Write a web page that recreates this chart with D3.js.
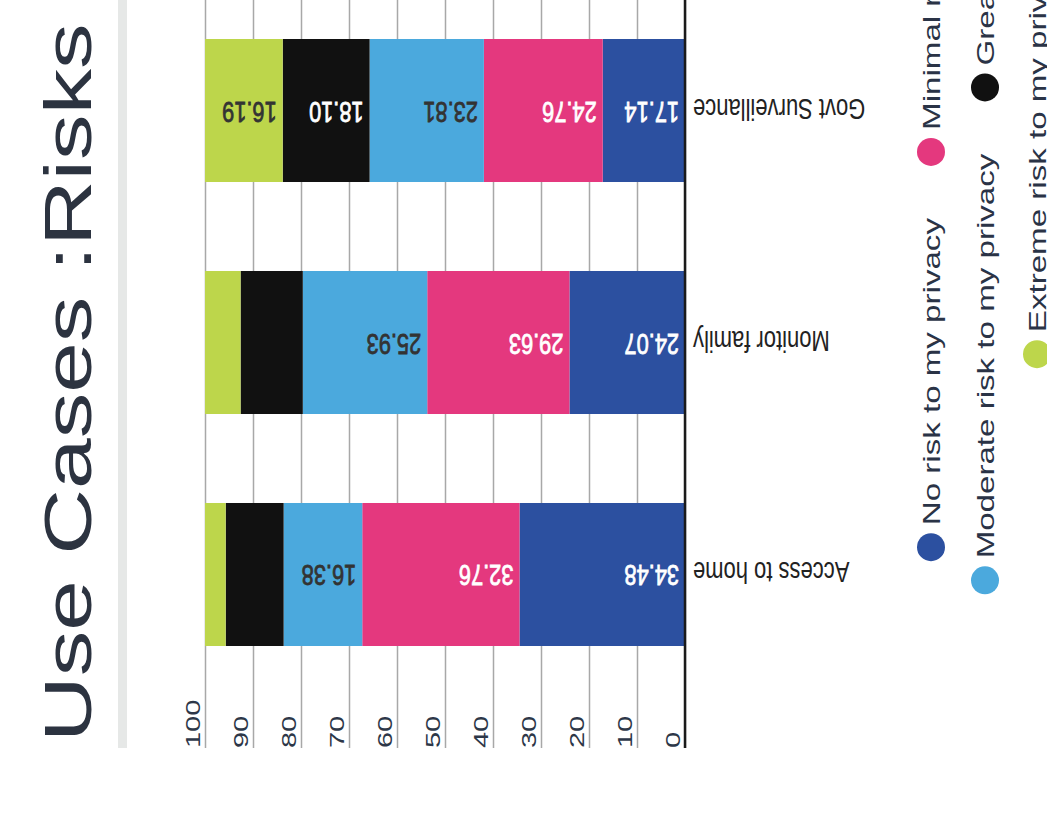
<!DOCTYPE html>
<html><head><meta charset="utf-8">
<script src="https://cdn.jsdelivr.net/npm/d3@7"></script>
<style>body{margin:0;background:#fff}svg{display:block}</style>
</head><body>
<svg id="chart" width="1047" height="813"></svg>
<script>
// ---- data ----
const title = "Use Cases :Risks";
const categories = ["Govt Surveillance", "Monitor family", "Access to home"];
const seriesNames = ["No risk to my privacy", "Minimal risk to my privacy", "Moderate risk to my privacy", "Great risk to my privacy", "Extreme risk to my privacy"];
const noRisk       = [17.14, 24.07, 34.48];
const minimalRisk  = [24.76, 29.63, 32.76];
const moderateRisk = [23.81, 25.93, 16.38];
const greatRisk    = [18.10, 12.96, 12.07];
const extremeRisk  = [16.19, 7.41, 4.31];
const tickValues = [0, 10, 20, 30, 40, 50, 60, 70, 80, 90, 100];
const colors = ["#2c50a0", "#e4387e", "#4ba9dd", "#111111", "#bdd64b"];
const labelColors = ["#ffffff", "#ffffff", "#333333", "#ffffff", "#333333"];

// ---- build table ----
const seriesValues = [noRisk, minimalRisk, moderateRisk, greatRisk, extremeRisk];
const table = categories.map((c, i) => {
  const row = {category: c};
  seriesNames.forEach((s, j) => row[s] = seriesValues[j][i]);
  return row;
});
const stacked = d3.stack().keys(seriesNames)(table);

const svg = d3.select("#chart");
const K = 1.38; // vertical stretch of the picture
const FONT = "'Liberation Sans', Arial, sans-serif";

const plotBottom = 748;
const x = d3.scaleLinear().domain([0, 100]).range([685, 205]);
const y = d3.scaleBand().domain(categories).range([-77, 762]).paddingInner(0.3836).paddingOuter(0.5);
const color = d3.scaleOrdinal().domain(seriesNames).range(colors);
const labelColor = d3.scaleOrdinal().domain(seriesNames).range(labelColors);

// title + side stripe
svg.append("rect").attr("x", 118).attr("y", 0).attr("width", 9).attr("height", plotBottom).attr("fill", "#e6e8e7");
svg.append("text")
  .attr("transform", `translate(91,742) rotate(-90) scale(${K},1)`)
  .attr("font-family", FONT).attr("font-size", 66).attr("fill", "#2c3340")
  .text(title);

// gridlines + tick labels via axis
const axis = d3.axisBottom(x).tickValues(tickValues).tickSize(-plotBottom).tickFormat(d3.format("d"));
const gAxis = svg.append("g").attr("transform", `translate(0,${plotBottom})`).call(axis);
gAxis.select(".domain").remove();
gAxis.selectAll(".tick line").attr("stroke", "#a8a8a8").attr("stroke-width", 1.5);
gAxis.selectAll(".tick text")
  .attr("y", null).attr("dy", null)
  .attr("text-anchor", "start")
  .attr("transform", `translate(-6,0) rotate(-90) scale(${K},1)`)
  .attr("font-family", FONT).attr("font-size", 21).attr("fill", "#2d3748");

// bars
const layers = svg.append("g").selectAll("g").data(stacked).join("g")
  .attr("fill", d => color(d.key));
layers.selectAll("rect").data(d => d).join("rect")
  .attr("x", d => x(d[1]))
  .attr("width", d => x(d[0]) - x(d[1]))
  .attr("y", d => y(d.data.category))
  .attr("height", y.bandwidth());

// zero axis line
svg.append("line").attr("x1", x(0)).attr("x2", x(0)).attr("y1", 0).attr("y2", plotBottom)
  .attr("stroke", "#1a1a1a").attr("stroke-width", 2.5);

// value labels (upside-down)
stacked.forEach(layer => {
  svg.append("g").selectAll("text").data(layer.filter(d => (d[1] - d[0]) >= 15)).join("text")
    .attr("transform", d => `translate(${x(d[0]) - 6},${y(d.data.category) + y.bandwidth() / 2 - 9}) rotate(180) scale(1,${K})`)
    .attr("text-anchor", "start")
    .attr("font-family", FONT).attr("font-size", 21.8)
    .attr("fill", labelColor(layer.key))
    .attr("stroke", labelColor(layer.key)).attr("stroke-width", 0.6)
    .text(d => d3.format(".2f")(d[1] - d[0]));
});

// category labels (upside-down)
svg.append("g").selectAll("text").data(categories).join("text")
  .attr("transform", d => `translate(${x(0) + 8},${y(d) + y.bandwidth() / 2 - 12}) rotate(180) scale(1,${K})`)
  .attr("text-anchor", "end")
  .attr("font-family", FONT).attr("font-size", 22).attr("fill", "#222")
  .text(d => d);

// legend (rotated, rows centred)
const legendRows = [[0, 1], [2, 3], [4]];
const rowX = [931, 985, 1037];
const legendCenterY = 156;
const R = 14, dotGap = 8, itemGap = 52, LFS = 24;
legendRows.forEach((row, ri) => {
  const g = svg.append("g");
  const items = row.map(i => {
    const t = g.append("text").attr("font-family", FONT).attr("font-size", LFS).text(seriesNames[i]);
    const len = t.node().getComputedTextLength() * K;
    t.remove();
    return {i, len};
  });
  const total = d3.sum(items, d => 2 * R + dotGap + d.len) + itemGap * (items.length - 1);
  let cur = legendCenterY + total / 2;
  items.forEach(it => {
    g.append("circle").attr("cx", rowX[ri]).attr("cy", cur - R).attr("r", R).attr("fill", colors[it.i]);
    cur -= 2 * R + dotGap;
    g.append("text")
      .attr("transform", `translate(${rowX[ri] + 8.5},${cur}) rotate(-90) scale(${K},1)`)
      .attr("font-family", FONT).attr("font-size", LFS).attr("fill", "#2a3346")
      .text(seriesNames[it.i]);
    cur -= it.len + itemGap;
  });
});
</script>
</body></html>
